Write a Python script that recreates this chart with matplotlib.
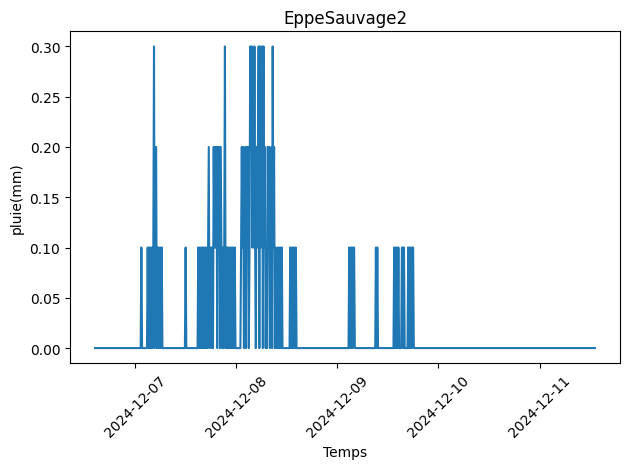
#!/usr/bin/env python
import matplotlib
matplotlib.use("Agg")
import matplotlib.pyplot as plt
import numpy as np
import pandas as pd

STATION = "EppeSauvage2"
START = "2024-12-06 14:30"
END = "2024-12-11 13:10"
STEP = "10min"

# rain episodes: start time + one digit per 10-min
# sample, digit = tenths of mm
EPISODE_STARTS = [
    "2024-12-07 01:30",
    "2024-12-07 03:00",
    "2024-12-07 12:00",
    "2024-12-07 15:00",
    "2024-12-08 01:10",
    "2024-12-08 12:50",
    "2024-12-09 02:50",
    "2024-12-09 09:10",
    "2024-12-09 13:30",
    "2024-12-09 15:20",
    "2024-12-09 16:50",
]
EPISODE_SAMPLES = [
    "1",
    "101010101301201010101",
    "1",
    "101010101010101" "201" "1010" "212120212021" "0101" "3" "010101010101010",
    "1212012021" "2013231213" "1021230312" "3031201021" "2012031201" "0010101010",
    "101010101",
    "10101011",
    "101",
    "1010101",
    "1101",
    "10101011",
]

times = pd.date_range(START, END, freq=STEP)
pluie = pd.Series(0.0, index=times)
for t0, s in zip(EPISODE_STARTS, EPISODE_SAMPLES):
    idx = pd.date_range(t0, periods=len(s), freq=STEP)
    pluie.loc[idx] = [int(c) / 10 for c in s]

fig, ax = plt.subplots(figsize=(6.4, 4.8), dpi=100)
ax.plot(pluie.index, pluie.values)
ax.set_title(STATION)
ax.set_xlabel('Temps')
ax.set_ylabel('pluie(mm)')
plt.xticks(rotation=45)
plt.tight_layout()
plt.savefig("out.png", bbox_inches='tight')
